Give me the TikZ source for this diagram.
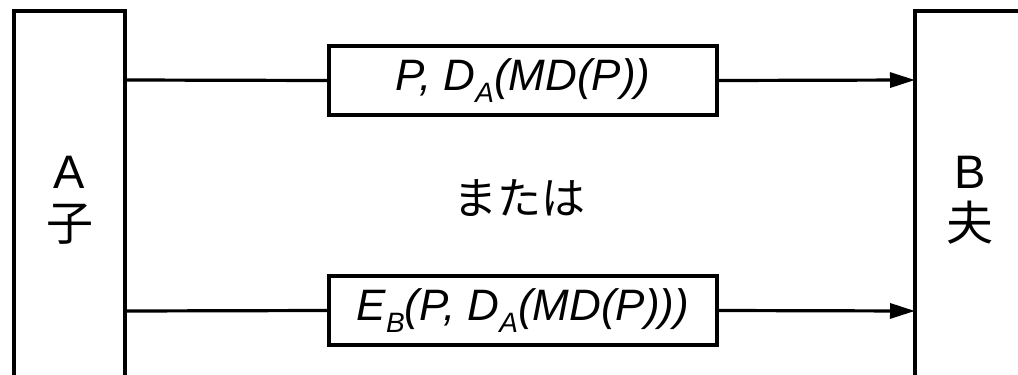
\documentclass[tikz,border=0pt]{standalone}
\usepackage{fontspec}
\setmainfont{Liberation Sans}
\newfontfamily\cjk{Noto Sans CJK JP}
\usetikzlibrary{arrows.meta}
\newcommand{\sbs}[1]{\raisebox{-12pt}{\fontsize{28}{28}\selectfont #1}}
\tikzset{
  party/.style={draw=black, line width=3.4pt},
  msgbox/.style={draw=black, line width=3.4pt, minimum width=388pt, minimum height=69pt, inner sep=0pt,
    font=\fontsize{44}{44}\selectfont\itshape},
  conn/.style={draw=black, line width=3.2pt},
  arr/.style={conn, -{Triangle[length=25pt,width=15pt]}},
  lbl/.style={font=\fontsize{47}{47}\selectfont, inner sep=0pt, anchor=base},
  cjklbl/.style={font=\fontsize{47}{47}\selectfont\cjk, inner sep=0pt, anchor=base},
}
\begin{document}
\begin{tikzpicture}[x=1pt,y=-1pt]
\useasboundingbox (0,0) rectangle (1018,375);
\begin{scope}
\clip (0,0) rectangle (1018,375);
% party boxes (cropped by picture edge)
\draw[party] (14,390) -- (14,11) -- (125,11) -- (125,390);
\draw[party] (915,390) -- (915,11) -- (1030,11);
\end{scope}
\coordinate (aTop) at (125,80);
\coordinate (aBot) at (125,311);
\coordinate (bTop) at (915,80);
\coordinate (bBot) at (915,311);
\node[lbl] (A) at (69.5,188) {A};
\node[cjklbl] (Ak) at (69.5,240) {子};
\node[lbl] (B) at (970,188) {B};
\node[cjklbl] (Bk) at (970,240) {夫};
\node[msgbox] (m1) at (523,80.5) {P, D\sbs{A}(MD(P))};
\node[msgbox] (m2) at (523,310.5) {E\sbs{B}(P, D\sbs{A}(MD(P)))};
\node[font=\fontsize{44}{44}\selectfont\cjk, inner sep=0pt] (or) at (519,198) {または};
\draw[conn] (aTop) -- (m1.west);
\draw[arr] (m1.east) -- (bTop);
\draw[conn] (aBot) -- (m2.west);
\draw[arr] (m2.east) -- (bBot);
\end{tikzpicture}
\end{document}
